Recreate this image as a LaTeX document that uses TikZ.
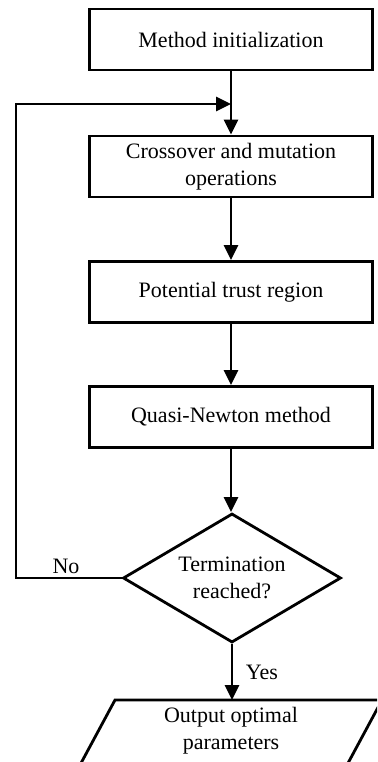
\documentclass[tikz,border=0pt]{standalone}
\usepackage{fontspec}
\setmainfont{Liberation Serif}
\usetikzlibrary{arrows.meta,shapes.geometric}
\begin{document}
\begin{tikzpicture}[x=1pt,y=-1pt, line width=2.8pt,
  txt/.style={font=\fontsize{22}{27}\selectfont, align=center},
  box/.style={draw, txt, minimum width=283pt, minimum height=61pt, inner sep=0pt},
  dec/.style={draw, diamond, txt, aspect=1.68, minimum width=218pt, minimum height=129pt, inner sep=0pt},
  arr/.style={-{Triangle[length=15pt,width=14pt]}}]
\useasboundingbox (0,0) rectangle (377,762);
\clip (0,0) rectangle (377,762);
\node[box] (init) at (231,39.5) {Method initialization};
\node[box] (cross) at (231,166.5) {Crossover and mutation\\operations};
\node[box] (trust) at (231,292) {Potential trust region};
\node[box] (qn) at (231,417) {Quasi-Newton method};
\node[dec] (term) at (232,578) {Termination\\reached?};
% output parallelogram
\coordinate (p1) at (115,700);
\coordinate (p2) at (382,700);
\coordinate (p3) at (347,765);
\coordinate (p4) at (80,765);
\draw (p1) -- (p2) -- (p3) -- (p4) -- cycle;
\node[txt] (out) at (231,731) {Output optimal\\parameters};
\coordinate (ptop) at (232,700);
% connectors
\coordinate (m) at (231,104);
\coordinate (fl) at (16,578);
\coordinate (fu) at (16,104);
\draw (init.south) -- (m);
\draw[arr] (m) -- (cross.north);
\draw[arr] (cross.south) -- (trust.north);
\draw[arr] (trust.south) -- (qn.north);
\draw[arr] (qn.south) -- (qn.south |- term.north);
\draw[arr] (term.south) -- (ptop);
\draw[arr] (term.west) -- (fl) -- (fu) -- (m);
\node[txt, anchor=center] (no) at (66,566) {No};
\node[txt, anchor=center] (yes) at (262,672) {Yes};
\end{tikzpicture}
\end{document}
